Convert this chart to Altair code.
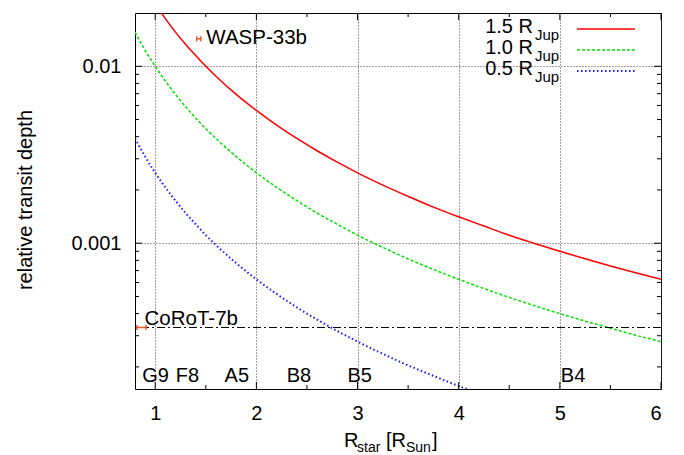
import altair as alt
import pandas as pd

# ---------------- data ----------------
rstar = [0.8, 0.9, 1.0, 1.1, 1.2, 1.3, 1.4, 1.5, 1.6, 1.8, 2.0, 2.2, 2.4, 2.6, 2.8,
         3.0, 3.25, 3.5, 3.75, 4.0, 4.25, 4.5, 4.75, 5.0, 5.25, 5.5, 5.75, 6.0]
depth_15 = [0.0352, 0.0278, 0.0225, 0.0186, 0.0156, 0.0133, 0.0115, 0.0100, 0.00879,
            0.00694, 0.00563, 0.00465, 0.00391, 0.00333, 0.00287, 0.00250, 0.00213,
            0.00184, 0.00160, 0.00141, 0.00125, 0.00111, 0.000997, 0.000900,
            0.000816, 0.000744, 0.000681, 0.000625]
depth_10 = [0.0156, 0.0123, 0.0100, 0.00826, 0.00694, 0.00592, 0.00510, 0.00444,
            0.00391, 0.00309, 0.00250, 0.00207, 0.00174, 0.00148, 0.00128, 0.00111,
            0.000947, 0.000816, 0.000711, 0.000625, 0.000554, 0.000494, 0.000443,
            0.000400, 0.000363, 0.000331, 0.000302, 0.000278]
depth_05 = [0.00391, 0.00309, 0.00250, 0.00207, 0.00174, 0.00148, 0.00128, 0.00111,
            0.000977, 0.000772, 0.000625, 0.000517, 0.000434, 0.000370, 0.000319,
            0.000278, 0.000237, 0.000204, 0.000178, 0.000156, 0.000138, 0.000123,
            0.000111, 0.000100, 0.0000907, 0.0000826, 0.0000756, 0.0000694]

series_labels = ["1.5 R", "1.0 R", "0.5 R"]
series_sub = "Jup"

planet_names = ["WASP-33b", "CoRoT-7b"]
planet_rstar = [1.43, 0.864]
planet_rstar_err = [0.02, 0.045]
planet_depth = [0.0143, 0.000334]
planet_label_x = [1.505, 0.894]
planet_label_y = [0.0133, 0.000344]

corot_level = [0.000334]

sptypes = ["G9", "F8", "A5", "B8", "B5", "B4"]
sptype_x = [0.871, 1.204, 1.686, 2.30, 2.90, 5.01]
sptype_y = 0.000164

x_ticks_major = [1, 2, 3, 4, 5, 6]
x_ticks_minor = [1.5, 2.5, 3.5, 4.5, 5.5]
y_ticks_major = [0.001, 0.01]
y_ticks_minor = [0.0002, 0.0003, 0.0004, 0.0005, 0.0006, 0.0007, 0.0008, 0.0009,
                 0.002, 0.003, 0.004, 0.005, 0.006, 0.007, 0.008, 0.009]

# ---------------- layout / style ----------------
W, H = 526, 376
FONT = "Liberation Sans"
RED, GREEN, BLUE, ORANGE = "#ff0000", "#00e000", "#1a1aff", "#f05a28"
GRID = "#444444"

xscale = alt.Scale(domain=[0.8, 6], nice=False, zero=False)
yscale = alt.Scale(type="log", domain=[0.00015, 0.02], nice=False)

x_axis = alt.Axis(values=x_ticks_major, format="d", title=None, ticks=False, tickSize=0,
                  domain=False, labelFontSize=20, labelFont=FONT, labelColor="black",
                  labelPadding=14, grid=True, gridDash=[1, 2], gridColor=GRID,
                  gridWidth=1)
y_axis = alt.Axis(values=y_ticks_major, format=".3~f", title=None, ticks=False, tickSize=0,
                  domain=False, labelFontSize=20, labelFont=FONT, labelColor="black",
                  labelPadding=14, grid=True, gridDash=[1, 2], gridColor=GRID,
                  gridWidth=1)


def X(field):
    return alt.X(field, type="quantitative", scale=xscale, axis=x_axis)


def Y(field):
    return alt.Y(field, type="quantitative", scale=yscale, axis=y_axis)


curves = pd.DataFrame({"r": rstar, "d15": depth_15, "d10": depth_10, "d05": depth_05})

layers = []

# curves
layers.append(alt.Chart(curves).mark_line(color=RED, strokeWidth=1.5, clip=True,
                                          interpolate="monotone")
              .encode(x=X("r"), y=Y("d15")))
layers.append(alt.Chart(curves).mark_line(color=GREEN, strokeWidth=1.5, clip=True,
                                          strokeDash=[3, 2], interpolate="monotone")
              .encode(x=X("r"), y=Y("d10")))
layers.append(alt.Chart(curves).mark_line(color=BLUE, strokeWidth=2, clip=True,
                                          strokeDash=[1.5, 2.5], interpolate="monotone")
              .encode(x=X("r"), y=Y("d05")))

# CoRoT-7b level (dash-dot)
layers.append(alt.Chart(pd.DataFrame({"d": corot_level})).mark_rule(
    color="black", strokeWidth=1, strokeDash=[8, 3, 2, 3]).encode(y=Y("d")))

# planets with error bars
pl = pd.DataFrame({"name": planet_names, "r": planet_rstar, "e": planet_rstar_err,
                   "d": planet_depth, "lx": planet_label_x, "ly": planet_label_y})
pl["lo"] = pl["r"] - pl["e"]
pl["hi"] = pl["r"] + pl["e"]
layers.append(alt.Chart(pl).mark_rule(color=ORANGE, strokeWidth=1.5)
              .encode(x=X("lo"), x2="hi", y=Y("d")))
for f in ["lo", "hi"]:
    layers.append(alt.Chart(pl).mark_point(shape="M0,-1L0,1", size=25, color=ORANGE,
                                           strokeWidth=1.5, filled=False, opacity=1)
                  .encode(x=X(f), y=Y("d")))
layers.append(alt.Chart(pl).mark_text(align="left", baseline="alphabetic", fontSize=20.5,
                                      font=FONT, color="black")
              .encode(x=X("lx"), y=Y("ly"), text="name:N"))

# spectral types
sp = pd.DataFrame({"t": sptypes, "x": sptype_x, "y": [sptype_y] * len(sptypes)})
layers.append(alt.Chart(sp).mark_text(align="left", baseline="alphabetic", fontSize=20,
                                      font=FONT, color="black")
              .encode(x=X("x"), y=Y("y"), text="t:N"))

# inward ticks on all four sides
def xticks(vals, length):
    df = pd.DataFrame({"v": vals})
    return [
        alt.Chart(df).mark_rule(color="black", strokeWidth=1)
        .encode(x=X("v"), y=alt.value(H - length), y2=alt.value(H)),
        alt.Chart(df).mark_rule(color="black", strokeWidth=1)
        .encode(x=X("v"), y=alt.value(0), y2=alt.value(length)),
    ]


def yticks(vals, length):
    df = pd.DataFrame({"v": vals})
    return [
        alt.Chart(df).mark_rule(color="black", strokeWidth=1)
        .encode(y=Y("v"), x=alt.value(0), x2=alt.value(length)),
        alt.Chart(df).mark_rule(color="black", strokeWidth=1)
        .encode(y=Y("v"), x=alt.value(W - length), x2=alt.value(W)),
    ]


layers += xticks(x_ticks_major, 7) + xticks(x_ticks_minor, 4)
layers += yticks(y_ticks_major, 7) + yticks(y_ticks_minor, 4)

# manual legend
one = pd.DataFrame({"a": [0]})
leg_colors = [RED, GREEN, BLUE]
leg_dash = [None, [3, 2], [1.5, 2.5]]
leg_width = [1.5, 1.5, 2]
for i, lab in enumerate(series_labels):
    yb = 20 + 21 * i
    layers.append(alt.Chart(one).mark_text(align="right", baseline="alphabetic",
                                           fontSize=20, font=FONT, color="black", text=lab)
                  .encode(x=alt.value(398), y=alt.value(yb)))
    layers.append(alt.Chart(one).mark_text(align="left", baseline="alphabetic",
                                           fontSize=15, font=FONT, color="black",
                                           text=series_sub)
                  .encode(x=alt.value(400), y=alt.value(yb + 7)))
    kw = dict(color=leg_colors[i], strokeWidth=leg_width[i])
    if leg_dash[i]:
        kw["strokeDash"] = leg_dash[i]
    layers.append(alt.Chart(one).mark_rule(**kw)
                  .encode(x=alt.value(442), x2=alt.value(500), y=alt.value(yb - 4)))

# axis titles (with subscripts)
def txt(s, x, y, size, align="left", angle=None):
    kw = dict(align=align, baseline="alphabetic", fontSize=size, font=FONT,
              color="black", text=s)
    if angle is not None:
        kw["angle"] = angle
    return alt.Chart(one).mark_text(**kw).encode(x=alt.value(x), y=alt.value(y))


tb = 434
layers.append(txt("R", 344 - 135, tb, 20))
layers.append(txt("star", 357 - 135, tb + 5, 14))
layers.append(txt("[R", 386 - 135, tb, 20))
layers.append(txt("Sun", 406 - 135, tb + 5, 14))
layers.append(txt("]", 432 - 135, tb, 20))
layers.append(txt("relative transit depth", 32 - 135, 200 - 13, 20, align="center",
                  angle=270))

chart = alt.layer(*layers).properties(
    width=W, height=H,
    padding={"left": 127, "top": 5, "right": 15, "bottom": 66},
    autosize=alt.AutoSizeParams(type="none"),
).configure_view(stroke="black", strokeWidth=1)

chart.save("out.html", embed_options={"renderer": "svg", "actions": False})
